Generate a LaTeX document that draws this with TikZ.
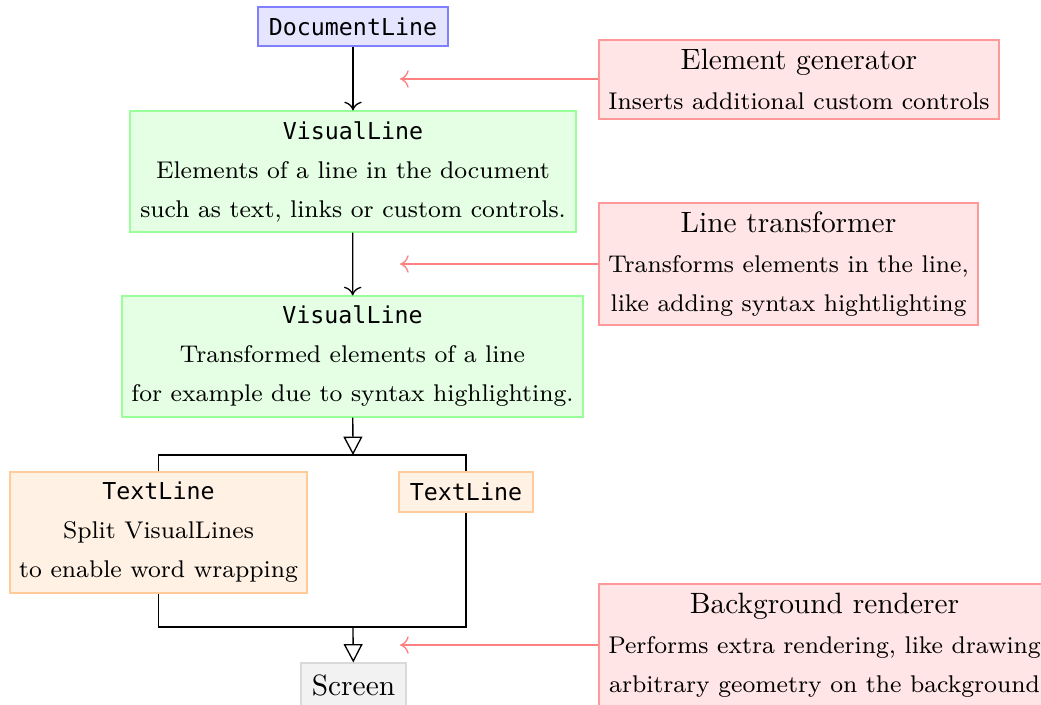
\documentclass[tikz,border=0pt]{standalone}
\usepackage{fontspec}
\newfontfamily\codefont{DejaVu Sans Mono}
\usetikzlibrary{arrows.meta}
\newdimen\pxu \pxu=0.3436pt
\tikzset{
  box/.style={draw, inner sep=0pt, align=center, font=\fontsize{8.3}{10}\selectfont},
  bluebox/.style={box, fill=blue!10, draw=blue!50},
  greenbox/.style={box, fill=green!10, draw=green!40},
  orangebox/.style={box, fill=orange!10, draw=orange!40},
  redbox/.style={box, fill=red!10, draw=red!40},
  graybox/.style={box, fill=gray!10, draw=gray!30},
  flow/.style={-{To[length=3pt,width=6pt]}, black, line width=0.45pt},
  hook/.style={-{To[length=3pt,width=6pt]}, red!50, line width=0.45pt},
  tri/.style={-{Triangle[open,length=6.3pt,width=6.5pt]}, black, line width=0.45pt},
  wire/.style={black, line width=0.45pt},
}
\newcommand{\code}[1]{{\fontsize{8}{10}\selectfont\codefont #1}}
\newcommand{\ttl}[1]{{\fontsize{10.1}{12}\selectfont #1}}
\begin{document}
\begin{tikzpicture}[x=\pxu, y=-\pxu]
\useasboundingbox (0,0) rectangle (1041,704);
\node[bluebox, minimum width=190\pxu, minimum height=39\pxu] (doc) at (353,26.5) {\code{DocumentLine}};
\node[greenbox, minimum width=446\pxu, minimum height=121\pxu] (vl1) at (353,171.5)
  {\code{VisualLine}\\[3.4pt] Elements of a line in the document\\[3.4pt] such as text, links or custom controls.};
\node[greenbox, minimum width=461\pxu, minimum height=121\pxu] (vl2) at (352.5,356.5)
  {\code{VisualLine}\\[3.4pt] Transformed elements of a line\\[3.4pt] for example due to syntax highlighting.};
\node[orangebox, minimum width=297\pxu, minimum height=121\pxu] (tl1) at (158.5,532.5)
  {\code{TextLine}\\[3.4pt] Split VisualLines\\[3.4pt] to enable word wrapping};
\node[orangebox, minimum width=134\pxu, minimum height=40\pxu] (tl2) at (466,492) {\code{TextLine}};
\node[graybox, minimum width=105\pxu, minimum height=44\pxu] (scr) at (353.5,685) {\ttl{Screen}};
\node[redbox, minimum width=400\pxu, minimum height=79\pxu] (eg) at (799,79.5)
  {\ttl{Element generator}\\[3.6pt] Inserts additional custom controls};
\node[redbox, minimum width=379\pxu, minimum height=122\pxu] (lt) at (788.5,264)
  {\ttl{Line transformer}\\[3.6pt] Transforms elements in the line,\\[3.4pt] like adding syntax hightlighting};
\node[redbox, minimum width=451\pxu, minimum height=122\pxu] (bg) at (824.5,645)
  {\ttl{Background renderer}\\[3.6pt] Performs extra rendering, like drawing\\[3.4pt] arbitrary geometry on the background};
\coordinate (j1) at (353,455);
\coordinate (j2) at (353,627);
\coordinate (egT) at (400,79);
\coordinate (ltT) at (400,264);
\coordinate (bgT) at (400,645);
\draw[flow] (doc) -- (vl1);
\draw[flow] (vl1) -- (vl2);
\draw[tri] (vl2) -- (j1);
\draw[wire] (tl1.north) -- (tl1.north |- j1) -- (tl2.north |- j1) -- (tl2.north);
\draw[wire] (tl1.south) -- (tl1.south |- j2) -- (tl2.south |- j2) -- (tl2.south);
\draw[tri] (j2) -- (scr);
\draw[hook] (eg.west |- egT) -- (egT);
\draw[hook] (lt.west |- ltT) -- (ltT);
\draw[hook] (bg.west |- bgT) -- (bgT);
\end{tikzpicture}
\end{document}
